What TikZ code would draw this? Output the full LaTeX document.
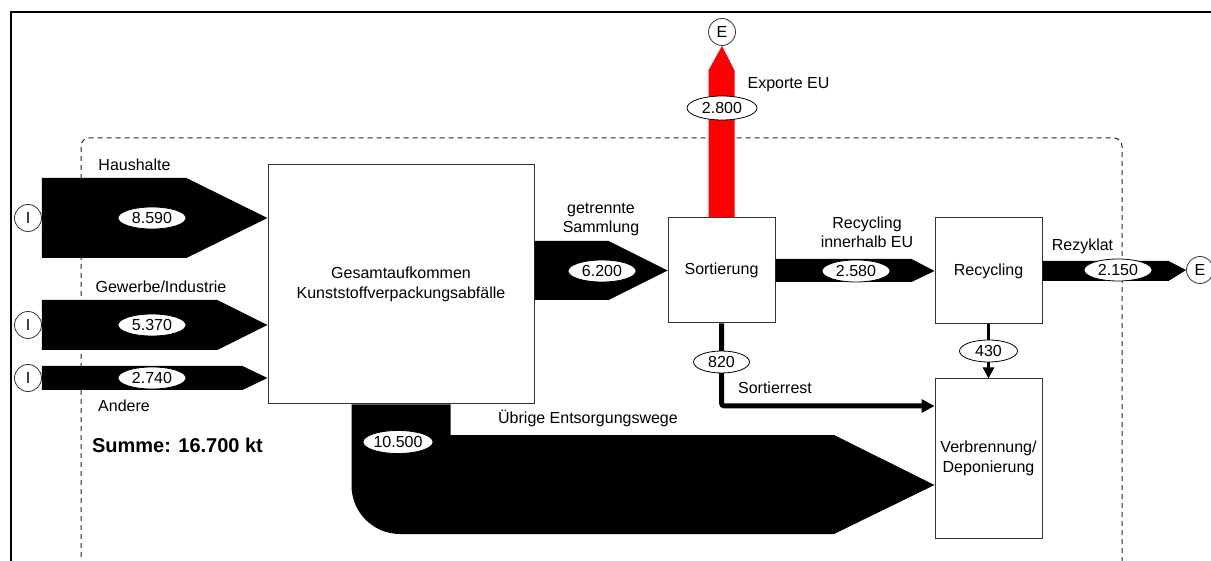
\documentclass[tikz,border=0pt]{standalone}
\usepackage{fontspec}
\setmainfont{Liberation Sans}
\usetikzlibrary{arrows.meta,calc,shapes.geometric}

\tikzset{
  box/.style={draw=black!80, line width=1pt, align=center, inner sep=0pt},
  io/.style={circle, draw=black!80, line width=0.8pt, fill=white, minimum size=27pt, inner sep=0pt},
  val/.style={ellipse, draw=black, line width=0.8pt, fill=white, minimum width=68pt, minimum height=22pt, inner sep=0pt},
  lbl/.style={align=center, inner sep=0pt},
  boundary/.style={draw=black!85, line width=1pt, dash pattern=on 5pt off 4pt, rounded corners=8pt},
}

% horizontal mass flow: tail centre, shaft length, half height, tip
\newcommand\hflow[4]{%
  \fill ($(#1)+(0,-#3)$) -- ($(#1)+(#2,-#3)$) -- (#4)
        -- ($(#1)+(#2,#3)$) -- ($(#1)+(0,#3)$) -- cycle;}

\begin{document}
\begin{tikzpicture}[x=1pt,y=-1pt,font=\fontsize{16}{19.5}\selectfont]
\useasboundingbox (0,0) rectangle (1211,561);

% outer frame
\draw[line width=1.6pt] (1211,12) -- (11,12) -- (11,561);

% system boundary
\begin{scope}
  \clip (0,0) rectangle (1211,561);
  \draw[boundary] (81,575) -- (81,138) -- (1122,138) -- (1122,575);
\end{scope}

% processes
\node[box, minimum width=266pt, minimum height=239pt] (ges) at (401,284.5)
  {Gesamtaufkommen\\Kunststoffverpackungsabfälle};
\node[box, minimum width=107pt, minimum height=105pt] (sort) at (721.5,270.5) {Sortierung};
\node[box, minimum width=107pt, minimum height=106pt] (rec) at (988.5,271) {Recycling};
\node[box, minimum width=107pt, minimum height=159pt] (verb) at (988.5,458.5)
  {Verbrennung/\\Deponierung};

% imports and exports
\node[io] (inH) at (28,218) {I};
\node[io] (inG) at (28,325) {I};
\node[io] (inA) at (28,378) {I};
\node[io] (outEx) at (722,32) {E};
\node[io] (outRz) at (1200,270) {E};

% inflows
\hflow{inH.east}{144.5}{40}{ges.west |- inH}
\hflow{inG.east}{175.5}{25}{ges.west |- inG}
\hflow{inA.east}{200.5}{12}{ges.west |- inA}

% separate collection, recycling, recyclate
\hflow{ges.east |- sort}{74}{29.5}{sort.west}
\hflow{sort.east}{136}{11.5}{rec.west}
\hflow{rec.east}{126}{10}{outRz.west}

% exports
\fill[red] ($(sort.north)+(-13,0)$) -- ($(sort.north)+(-13,-147)$) -- (outEx.south)
  -- ($(sort.north)+(13,-147)$) -- ($(sort.north)+(13,0)$) -- cycle;

% other disposal routes
\fill ($(ges.south)+(-49.5,0)$) -- ($(ges.south)+(49.5,0)$) |- (834,435)
  -- ($(verb.west)+(0,26.5)$) -- (834,534) -- (400,534)
  arc[start angle=90, end angle=180, radius=48.5] -- cycle;

% sorting residue
\coordinate (srEnd) at ($(verb.west)+(0,-52.5)$);
\draw[line width=5pt, rounded corners=3pt, -{Triangle[length=13pt,width=13pt]}]
  (sort.south) |- (srEnd);

% recycling residue
\draw[line width=2.5pt, -{Triangle[length=11pt,width=11pt]}] (rec.south) -- (verb.north);

% quantities
\node[val] (vH) at (152,218) {8.590};
\node[val] (vG) at (152,325) {5.370};
\node[val] (vA) at (152,378) {2.740};
\node[val] (vS) at (602,271) {6.200};
\node[val, minimum width=70pt, minimum height=24pt] (vE) at (722,108) {2.800};
\node[val] (vR) at (856,271) {2.580};
\node[val] (vZ) at (1118,270) {2.150};
\node[val, minimum width=56pt] (vSR) at (721.5,362) {820};
\node[val, minimum width=58pt] (vRV) at (988.5,351) {430};
\node[val, minimum width=70pt, minimum height=23pt] (vU) at (398,442) {10.500};

% flow labels
\node[lbl] (lH) at (134.5,165) {Haushalte};
\node[lbl] (lG) at (161,287) {Gewerbe/Industrie};
\node[lbl] (lA) at (124,406) {Andere};
\node[lbl, font=\bfseries\fontsize{20}{23}\selectfont] (sum) at (177.5,445) {Summe: 16.700 kt};
\node[lbl] (lS) at (601,219.5) {getrennte\\Sammlung};
\node[lbl] (lE) at (788.5,85) {Exporte EU};
\node[lbl] (lR) at (867,232.5) {Recycling\\innerhalb EU};
\node[lbl] (lZ) at (1082.5,246) {Rezyklat};
\node[lbl] (lSR) at (775,388) {Sortierrest};
\node[lbl] (lU) at (588,418) {Übrige Entsorgungswege};
\end{tikzpicture}
\end{document}
